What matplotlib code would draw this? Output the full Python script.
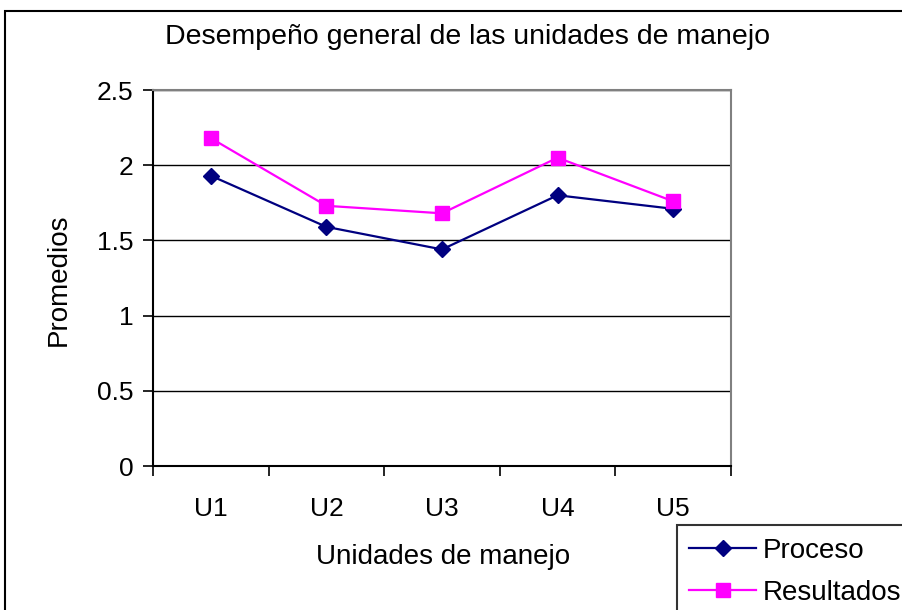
import matplotlib.pyplot as plt
from matplotlib.patches import Rectangle
import numpy as np

plt.rcParams['font.family'] = ['Liberation Sans', 'DejaVu Sans']

# datos
unidades = ['U1', 'U2', 'U3', 'U4', 'U5']
proceso = [1.93, 1.59, 1.44, 1.80, 1.71]
resultados = [2.18, 1.73, 1.68, 2.05, 1.76]

fig = plt.figure(figsize=(9.03, 6.10), dpi=100)

# marco exterior del grafico (se sale por derecha y abajo)
fig.patches.append(Rectangle((5 / 903, -0.1), 1.2, 1 - 11 / 610 + 0.1,
                             transform=fig.transFigure, fill=False,
                             edgecolor='black', linewidth=1.5))

ax = fig.add_axes([153 / 903, 1 - 466 / 610, (731 - 153) / 903, (466 - 90) / 610])
x = np.arange(len(unidades))

ax.plot(x, proceso, color='#000080', marker='D', markersize=8, linewidth=1.6,
        label='Proceso')
ax.plot(x, resultados, color='#FF00FF', marker='s', markersize=10, linewidth=1.6,
        label='Resultados')

ax.set_xlim(-0.5, len(unidades) - 0.5)
ax.set_ylim(0, 2.5)
ax.set_yticks([0, 0.5, 1, 1.5, 2, 2.5])
ax.set_yticklabels(['0', '0.5', '1', '1.5', '2', '2.5'], fontsize=19)
ax.set_xticks(x)
ax.set_xticklabels(unidades, fontsize=19)
ax.set_xticks(np.arange(-0.5, len(unidades)), minor=True)
ax.tick_params(axis='x', which='major', length=0, pad=22)
ax.tick_params(axis='x', which='minor', length=7, width=1.2, direction='out')
ax.tick_params(axis='y', length=7, width=1.2, direction='out', pad=7)

ax.yaxis.grid(True, color='black', linewidth=1)
ax.set_axisbelow(True)
for s in ['top', 'right']:
    ax.spines[s].set_color('#808080')
    ax.spines[s].set_linewidth(1.5)
for s in ['left', 'bottom']:
    ax.spines[s].set_color('black')
    ax.spines[s].set_linewidth(1.5)

fig.text(468 / 903, 1 - 37 / 610, 'Desempeño general de las unidades de manejo',
         ha='center', va='center', fontsize=20.5)
fig.text(59 / 903, 1 - 280 / 610, 'Promedios', ha='center', va='center',
         rotation=90, fontsize=20)
fig.text(443 / 903, 1 - 557 / 610, 'Unidades de manejo', ha='center',
         va='center', fontsize=20)

leg = fig.legend(loc='upper left', bbox_to_anchor=(677 / 903, 1 - 525 / 610),
                 frameon=True, fancybox=False, fontsize=20, handlelength=2.4,
                 handletextpad=0.25, borderpad=0.45, labelspacing=0.6,
                 borderaxespad=0)
leg.get_frame().set_edgecolor('black')
leg.get_frame().set_linewidth(1.5)

fig.savefig('out.png', dpi=100)
